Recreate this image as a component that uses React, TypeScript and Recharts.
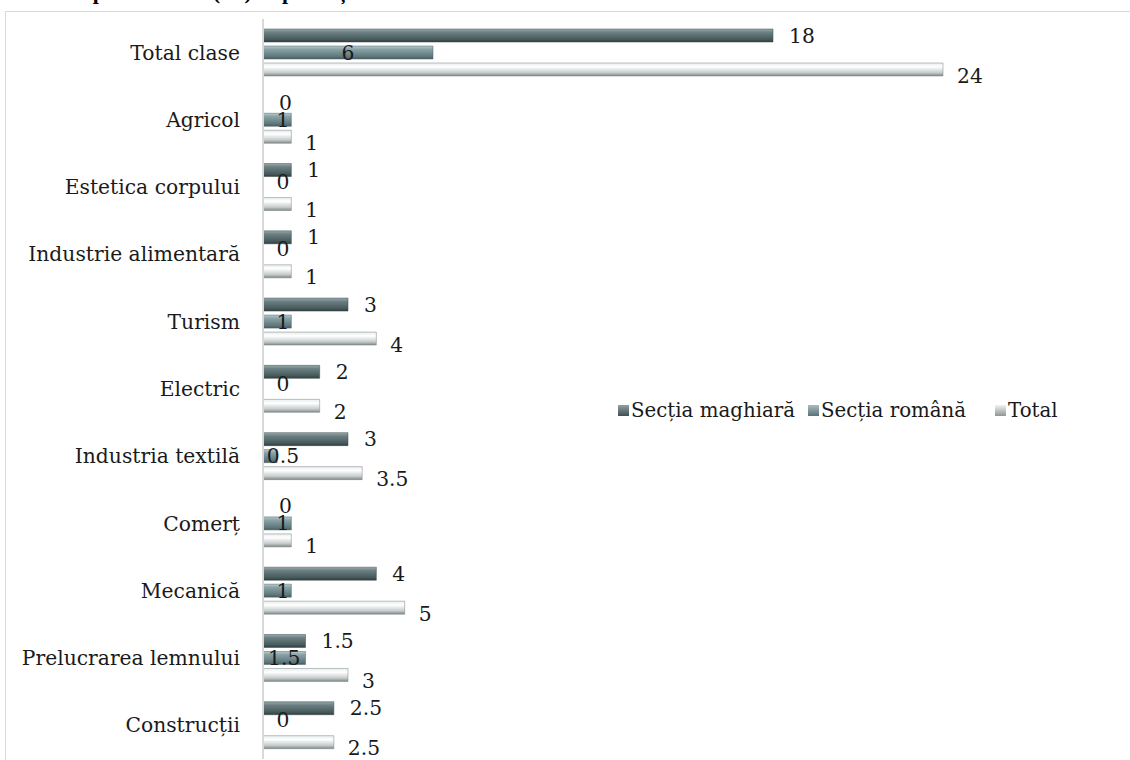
import { BarChart, Bar, XAxis, YAxis, LabelList, Cell } from 'recharts'

const categories = [
  'Total clase',
  'Agricol',
  'Estetica corpului ',
  'Industrie alimentară',
  'Turism',
  'Electric',
  'Industria textilă',
  'Comerț',
  'Mecanică',
  'Prelucrarea lemnului',
  'Construcții',
]
const sectiaMaghiara = [18, 0, 1, 1, 3, 2, 3, 0, 4, 1.5, 2.5]
const sectiaRomana = [6, 1, 0, 0, 1, 0, 0.5, 1, 1, 1.5, 0]
const totalValues = [24, 1, 1, 1, 4, 2, 3.5, 1, 5, 3, 2.5]

const seriesNames = ['Secția maghiară', 'Secția română', 'Total']
const legendLeft = [618, 808, 995]

const data = categories.map((name, i) => ({
  name,
  maghiara: sectiaMaghiara[i],
  romana: sectiaRomana[i],
  total: totalValues[i],
}))

const FONT = '"DejaVu Serif", serif'
const FS = 20.3

const YTick = (props: any) => {
  const { x, y, payload } = props
  return (
    <text x={x - 15} y={y} textAnchor="end" dominantBaseline="central" fontFamily={FONT} fontSize={FS} fill="#1a1a1a">
      {payload.value}
    </text>
  )
}

const rightLabel = (dy: number, dx: number) => (props: any) => {
  const { x, y, width, height, value } = props
  const w = value === 0 ? 0 : width
  return (
    <text x={x + w + dx} y={y + height / 2 + dy} dominantBaseline="central" fontFamily={FONT} fontSize={FS} fill="#1a1a1a">
      {value}
    </text>
  )
}

const midLabel = (props: any) => {
  const { x, y, width, height, value } = props
  const w = value === 0 ? 0 : width
  const cx = Math.max(x + w / 2, x + 20)
  const dy = value === 0 ? -5 : 0
  return (
    <text x={cx} y={y + height / 2 + dy} textAnchor="middle" dominantBaseline="central" fontFamily={FONT} fontSize={FS} fill="#1a1a1a">
      {value}
    </text>
  )
}

const zeroMin = (value: any) => (value === 0 ? 1 : 0)

const LegendBox = () => (
  <>
    {seriesNames.map((n, i) => (
      <div
        key={n}
        style={{ position: 'absolute', left: legendLeft[i], top: 399, display: 'flex', alignItems: 'center', fontFamily: FONT, fontSize: FS - 0.5, color: '#1a1a1a', whiteSpace: 'nowrap' }}
      >
        <svg width={11} height={11} style={{ marginRight: 2 }}>
          <defs>
            <linearGradient id={`lg${i}`} x1="0" y1="0" x2="0" y2="1">
              <stop offset="0" stopColor={['#8ea1a3', '#a7bcbf', '#f2f2f2'][i]} />
              <stop offset="1" stopColor={['#3e4f51', '#5a7377', '#8f9596'][i]} />
            </linearGradient>
          </defs>
          <rect x={0} y={0} width={11} height={11} fill={`url(#lg${i})`} />
        </svg>
        <span>{n}</span>
      </div>
    ))}
  </>
)

export default function App() {
  return (
    <div style={{ position: 'absolute', left: 0, top: 0, width: 1130, height: 760, overflow: 'hidden', background: '#fff' }}>
      <div style={{ position: 'absolute', left: 36, top: -21, fontFamily: '"Liberation Serif", serif', fontWeight: 'bold', fontSize: 22, whiteSpace: 'nowrap' }}>
        Clase profesionale (IX) după secția de limbă a claselor
      </div>
      <div style={{ position: 'absolute', left: 5, top: 11, width: 1200, height: 800, border: '1px solid #d9d9d9' }} />
      <div style={{ position: 'absolute', left: 0, top: 0 }}>
        <BarChart
          width={1130}
          height={760}
          data={data}
          layout="vertical"
          margin={{ top: 19, right: 17, bottom: 1, left: 0 }}
          barSize={13}
          barGap={4}
          barCategoryGap={10}
        >
          <defs>
            <linearGradient id="gMag" x1="0" y1="0" x2="0" y2="1">
              <stop offset="0" stopColor="#98abad" />
              <stop offset="0.25" stopColor="#6d8184" />
              <stop offset="0.8" stopColor="#46595b" />
              <stop offset="1" stopColor="#2f3d3f" />
            </linearGradient>
            <linearGradient id="gRom" x1="0" y1="0" x2="0" y2="1">
              <stop offset="0" stopColor="#b6cacd" />
              <stop offset="0.25" stopColor="#8aa2a6" />
              <stop offset="0.8" stopColor="#5f787c" />
              <stop offset="1" stopColor="#465c60" />
            </linearGradient>
            <linearGradient id="gTot" x1="0" y1="0" x2="0" y2="1">
              <stop offset="0" stopColor="#e8eeee" />
              <stop offset="0.3" stopColor="#ffffff" />
              <stop offset="0.75" stopColor="#c4caca" />
              <stop offset="1" stopColor="#7f8788" />
            </linearGradient>
          </defs>
          <XAxis type="number" domain={[0, 30]} hide />
          <YAxis
            type="category"
            dataKey="name"
            width={263}
            axisLine={{ stroke: '#d9d9d9', strokeWidth: 2 }}
            tickLine={false}
            tick={<YTick />}
            interval={0}
          />
          <Bar dataKey="maghiara" name={seriesNames[0]} fill="url(#gMag)" minPointSize={zeroMin} isAnimationActive={false}>
            {sectiaMaghiara.map((v, i) => (
              <Cell key={i} fill={v === 0 ? 'transparent' : 'url(#gMag)'} stroke={v === 0 ? 'none' : '#3a4a4c'} strokeWidth={0.5} />
            ))}
            <LabelList dataKey="maghiara" content={rightLabel(0, 16)} />
          </Bar>
          <Bar dataKey="romana" name={seriesNames[1]} fill="url(#gRom)" minPointSize={zeroMin} isAnimationActive={false}>
            {sectiaRomana.map((v, i) => (
              <Cell key={i} fill={v === 0 ? 'transparent' : 'url(#gRom)'} stroke={v === 0 ? 'none' : '#4d6366'} strokeWidth={0.5} />
            ))}
            <LabelList dataKey="romana" content={midLabel} />
          </Bar>
          <Bar dataKey="total" name={seriesNames[2]} fill="url(#gTot)" stroke="#7a8283" strokeWidth={0.5} isAnimationActive={false}>
            <LabelList dataKey="total" content={rightLabel(6, 14)} />
          </Bar>
        </BarChart>
      </div>
      <LegendBox />
    </div>
  )
}
